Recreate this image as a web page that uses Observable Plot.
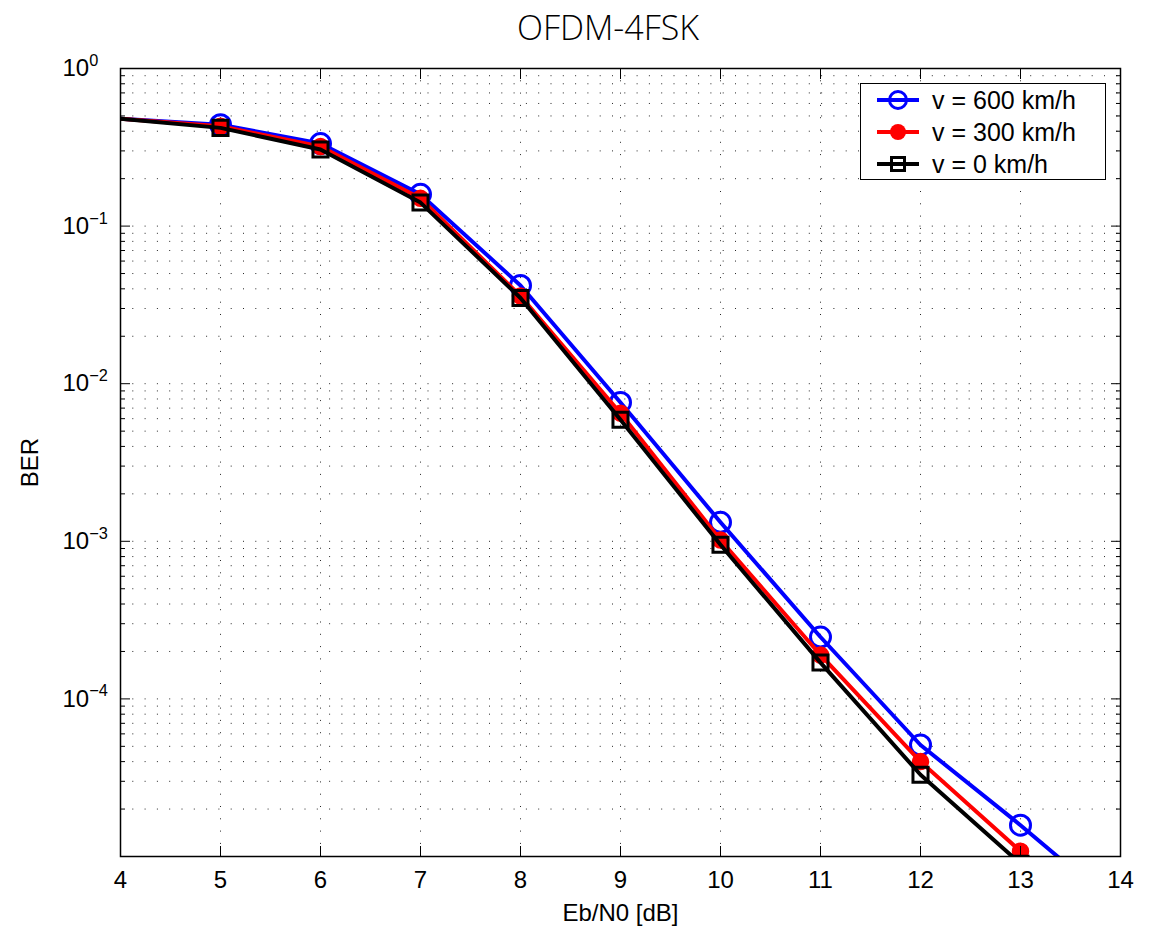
<!DOCTYPE html>
<html><head><meta charset="utf-8">
<script src="https://cdn.jsdelivr.net/npm/d3@7"></script>
<script src="https://cdn.jsdelivr.net/npm/@observablehq/plot@0.6"></script>
<style>
body{margin:0;background:#fff;font-family:"Liberation Sans",Arial,sans-serif;}
#wrap{position:relative;width:1156px;height:928px;overflow:hidden;}
#title{position:absolute;left:608px;top:0;transform:translateX(-50%);height:50px;line-height:54px;font-family:"Open Sans",sans-serif;font-weight:300;font-size:34px;white-space:nowrap;color:#000;}
#chart{position:absolute;left:0;top:50px;}
#legend{position:absolute;left:860px;top:83px;width:244px;height:95px;border:1.5px solid #000;background:#fff;font-size:25px;}
.row{position:absolute;left:0;height:30px;display:flex;align-items:center;}
.row svg{margin-left:14px;margin-right:11px;}
</style></head>
<body><div id="wrap"><div id="title">OFDM-4FSK</div><div id="chart"></div><div id="legend"></div></div>
<script>
// Eb/N0 in dB
const ebn0 = [3, 4, 5, 6, 7, 8, 9, 10, 11, 12, 13, 14];
// BER per speed
const ber600 = [0.50, 0.48, 0.44, 0.334, 0.159, 0.042, 0.0076, 0.00132, 2.47e-4, 5.1e-5, 1.58e-5, 4.6e-6];
const ber300 = [0.50, 0.48, 0.43, 0.32, 0.150, 0.036, 0.0065, 0.00102, 1.9e-4, 4.0e-5, 1.08e-5, 2.5e-6];
const ber0   = [0.50, 0.48, 0.42, 0.306, 0.141, 0.035, 0.0059, 9.5e-4, 1.7e-4, 3.3e-5, 9.0e-6, 2.0e-6];
const seriesNames = ["v = 600 km/h", "v = 300 km/h", "v = 0 km/h"];
const seriesColors = ["#0000ff", "#ff0000", "#000000"];
// tick values
const xTicks = [4, 5, 6, 7, 8, 9, 10, 11, 12, 13, 14];
const yMajor = [1e-5, 1e-4, 1e-3, 1e-2, 1e-1, 1];
const yMajorLabels = ["", "10|−4", "10|−3", "10|−2", "10|−1", "10|0"];
const yMinor = [];
for (const e of [-5, -4, -3, -2, -1]) for (const m of [2,3,4,5,6,7,8,9]) yMinor.push(+(m * Math.pow(10, e)).toPrecision(3));
const yGrid = yMajor.concat(yMinor);

const mk = (ys) => ebn0.map((x, i) => ({x, y: ys[i]}));
const d600 = mk(ber600), d300 = mk(ber300), d0 = mk(ber0);
const shown = (d) => d.x > 4 && d.x <= 14;

const dotted = {stroke: "#000", strokeWidth: 1, strokeDasharray: "1,11.3", strokeOpacity: 0.85};

const chart = Plot.plot({
  width: 1156, height: 878,
  marginTop: 18, marginBottom: 72, marginLeft: 120, marginRight: 36,
  style: {fontFamily: '"Liberation Sans", Arial, sans-serif', fontSize: "24px", color: "#000", background: "#fff"},
  x: {domain: [4, 14]},
  y: {type: "log", domain: [1e-5, 1]},
  marks: [
    Plot.ruleY(yGrid, {y: d => d, ...dotted}),
    Plot.ruleX(xTicks, {x: d => d, ...dotted}),
    Plot.line(d600, {x: "x", y: "y", stroke: seriesColors[0], strokeWidth: 4, clip: true}),
    Plot.dot(d600.filter(shown), {x: "x", y: "y", r: 10, stroke: seriesColors[0], strokeWidth: 3, fill: "none", clip: true}),
    Plot.line(d300, {x: "x", y: "y", stroke: seriesColors[1], strokeWidth: 4, clip: true}),
    Plot.dot(d300.filter(shown), {x: "x", y: "y", r: 8, fill: seriesColors[1], stroke: seriesColors[1], clip: true}),
    Plot.line(d0, {x: "x", y: "y", stroke: seriesColors[2], strokeWidth: 4, clip: true}),
    Plot.dot(d0.filter(shown), {x: "x", y: "y", r: 8.5, symbol: "square", stroke: seriesColors[2], strokeWidth: 3, fill: "none", clip: true}),
    // y tick labels
    Plot.axisY(yMajor, {anchor: "left", tickSize: 0, tickPadding: 0, dx: -58, textAnchor: "start", stroke: "none",
      tickFormat: (d) => yMajorLabels[yMajor.indexOf(d)], label: "BER", labelArrow: "none", labelAnchor: "center", labelOffset: 100, fontSize: 24}),
    // inward ticks
    Plot.axisY(yMajor, {anchor: "left", tickSize: -10, fill: "none", label: null}),
    Plot.axisY(yMinor, {anchor: "left", tickSize: -5, fill: "none", label: null}),
    Plot.axisY(yMajor, {anchor: "right", tickSize: -10, fill: "none", label: null}),
    Plot.axisY(yMinor, {anchor: "right", tickSize: -5, fill: "none", label: null}),
    Plot.axisX(xTicks, {anchor: "bottom", tickSize: 0, tickPadding: 14, stroke: "none", tickFormat: d => String(d),
      label: "Eb/N0 [dB]", labelArrow: "none", labelAnchor: "center", labelOffset: 64, fontSize: 24}),
    Plot.axisX(xTicks, {anchor: "bottom", tickSize: -10, fill: "none", label: null}),
    Plot.axisX(xTicks, {anchor: "top", tickSize: -10, fill: "none", label: null}),
    Plot.frame({stroke: "#000", strokeWidth: 1.5})
  ]
});
document.getElementById("chart").appendChild(chart);

// superscript exponents on y labels
d3.select(chart).selectAll("text").each(function () {
  const t = this.textContent;
  if (!t.includes("|")) return;
  const [b, e] = t.split("|");
  this.textContent = b;
  d3.select(this).append("tspan").attr("dy", "-0.62em").attr("font-size", "0.68em").text(e);
});

// legend
const legend = d3.select("#legend");
const symbols = ["circleOpen", "circleFill", "square"];
seriesNames.forEach((name, i) => {
  const row = legend.append("div").attr("class", "row").style("top", (i * 32 + 1) + "px");
  const s = row.append("svg").attr("width", 46).attr("height", 30);
  s.append("line").attr("x1", 2).attr("x2", 44).attr("y1", 15).attr("y2", 15)
    .attr("stroke", seriesColors[i]).attr("stroke-width", 4);
  if (symbols[i] === "circleOpen") s.append("circle").attr("cx", 23).attr("cy", 15).attr("r", 8.5).attr("fill", "none").attr("stroke", seriesColors[i]).attr("stroke-width", 3);
  else if (symbols[i] === "circleFill") s.append("circle").attr("cx", 23).attr("cy", 15).attr("r", 8).attr("fill", seriesColors[i]);
  else s.append("rect").attr("x", 16.5).attr("y", 8.5).attr("width", 13).attr("height", 13).attr("fill", "none").attr("stroke", seriesColors[i]).attr("stroke-width", 3);
  row.append("span").text(name);
});
</script>
</body></html>
